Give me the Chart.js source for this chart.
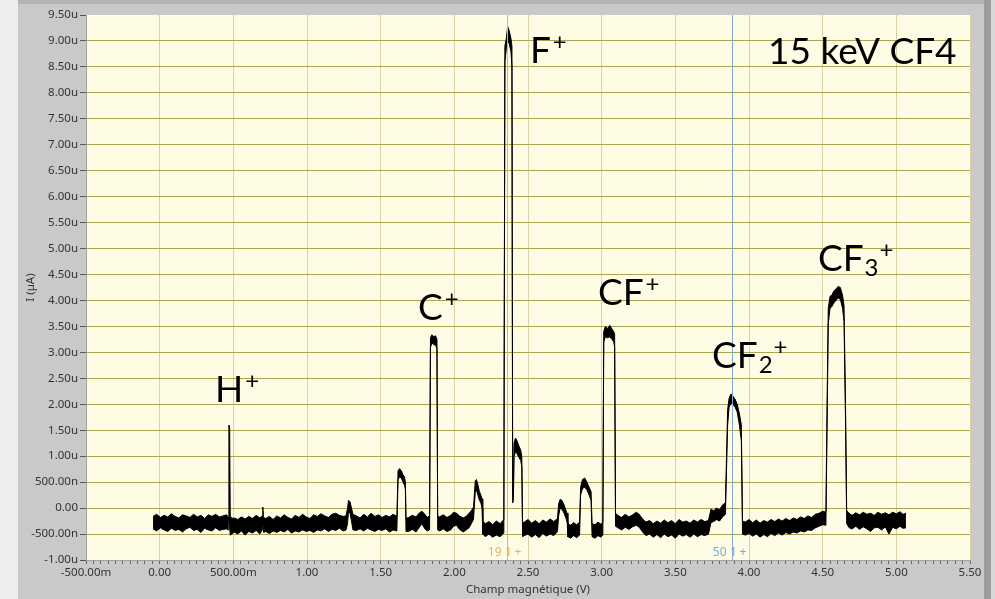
<!DOCTYPE html>
<html>
<head>
<meta charset="utf-8">
<title>Spectre de masse CF4</title>
<script src="https://cdn.jsdelivr.net/npm/chart.js@4.4.1/dist/chart.umd.min.js"></script>
<style>
  html, body { margin: 0; padding: 0; background: #c9c9c9; overflow: hidden; }
  #wrap { width: 995px; height: 599px; }
</style>
</head>
<body>
<div id="wrap"><canvas id="spectrum" width="995" height="599"></canvas></div>
<script>
// Ion current trace vs. magnet field setting, stored as the upper and lower
// edge of the noisy acquisition band at each field value.
const fieldV = [
  -0.045, -0.02, 0.005, 0.03, 0.055, 0.08, 0.105, 0.13, 0.155, 0.18, 0.205, 0.23, 0.255, 0.28, 0.305, 0.33, 0.355, 0.38, 0.405, 0.43, 0.455,
  0.466, 0.47, 0.475, 0.479, 0.49,
  0.505, 0.53, 0.555, 0.58, 0.605, 0.63, 0.655, 0.68, 0.695, 0.7, 0.705, 0.72,
  0.745, 0.77, 0.795, 0.82, 0.845, 0.87, 0.895, 0.92, 0.945, 0.97, 0.995,
  1.02, 1.045, 1.07, 1.095, 1.12, 1.145, 1.17, 1.195, 1.22, 1.245, 1.265,
  1.275, 1.282, 1.292, 1.302, 1.312,
  1.335, 1.36, 1.385, 1.41, 1.435, 1.46, 1.485, 1.51, 1.535, 1.56, 1.585, 1.61,
  1.618, 1.628, 1.64, 1.652, 1.662, 1.668, 1.672,
  1.69, 1.715, 1.74, 1.76, 1.78, 1.8, 1.815, 1.832,
  1.838, 1.848, 1.86, 1.872, 1.882, 1.887,
  1.9, 1.925, 1.95, 1.975, 1.995, 2.015, 2.035, 2.06, 2.08,
  2.1, 2.115, 2.13, 2.142, 2.15, 2.16, 2.17, 2.18, 2.188, 2.193,
  2.21, 2.235, 2.26, 2.285, 2.31, 2.336,
  2.343, 2.353, 2.362, 2.372, 2.384, 2.391,
  2.396, 2.401, 2.405, 2.415, 2.425, 2.438, 2.45, 2.458, 2.463,
  2.475, 2.5, 2.525, 2.55, 2.575, 2.6, 2.625, 2.65, 2.675, 2.7,
  2.708, 2.718, 2.73, 2.745, 2.758, 2.766, 2.771,
  2.79, 2.81, 2.83, 2.85,
  2.857, 2.87, 2.885, 2.9, 2.915, 2.928, 2.935,
  2.955, 2.975, 2.995, 3.008,
  3.014, 3.025, 3.04, 3.055, 3.07, 3.082, 3.088, 3.094,
  3.11, 3.135, 3.16, 3.185, 3.21, 3.235, 3.255, 3.275,
  3.3, 3.325, 3.35, 3.375, 3.4, 3.425, 3.45, 3.475, 3.5,
  3.525, 3.55, 3.575, 3.6, 3.625, 3.65, 3.675, 3.7, 3.725,
  3.742, 3.76, 3.78, 3.8, 3.82, 3.84,
  3.855, 3.865, 3.878, 3.89, 3.905, 3.92, 3.935, 3.948, 3.956,
  3.975, 4.0, 4.025, 4.05, 4.075, 4.1, 4.125, 4.15, 4.175, 4.2, 4.225,
  4.25, 4.275, 4.3, 4.325, 4.35, 4.375, 4.4, 4.425, 4.45, 4.475, 4.5, 4.522,
  4.53, 4.538, 4.55, 4.562, 4.575, 4.59, 4.605, 4.62, 4.635, 4.645, 4.655, 4.663,
  4.68, 4.7, 4.725, 4.75, 4.775, 4.8, 4.825, 4.85,
  4.875, 4.9, 4.925, 4.95, 4.975, 5.0, 5.025, 5.045, 5.065
];

const upperUA = [
  -0.16, -0.12, -0.18, -0.14, -0.17, -0.11, -0.16, -0.19, -0.13, -0.15, -0.18, -0.12, -0.17, -0.14, -0.2, -0.13, -0.16, -0.12, -0.17, -0.15, -0.13,
  -0.18, 1.6, 1.56, -0.15, -0.2,
  -0.19, -0.22, -0.17, -0.21, -0.16, -0.2, -0.14, -0.19, -0.15, 0.02, -0.18, -0.2,
  -0.16, -0.22, -0.15, -0.19, -0.13, -0.18, -0.21, -0.14, -0.18, -0.12, -0.17,
  -0.2, -0.13, -0.16, -0.11, -0.15, -0.18, -0.12, -0.1, -0.14, -0.16, -0.15,
  0.0, 0.15, 0.12, 0.0, -0.12,
  -0.15, -0.19, -0.12, -0.17, -0.1, -0.16, -0.13, -0.18, -0.14, -0.17, -0.12, -0.16,
  0.72, 0.76, 0.72, 0.64, 0.6, 0.5, -0.2,
  -0.18, -0.14, -0.17, -0.1, -0.06, -0.12, -0.18, -0.15,
  3.28, 3.34, 3.3, 3.32, 3.25, -0.15,
  -0.17, -0.13, -0.18, -0.14, -0.08, -0.1, -0.15, -0.19, -0.16,
  -0.1, -0.05, 0.02, 0.52, 0.55, 0.45, 0.32, 0.25, 0.18, -0.25,
  -0.3, -0.26, -0.32, -0.25, -0.3, -0.22,
  8.9, 9.05, 9.28, 9.2, 9.05, 8.9,
  0.25, 0.3, 1.25, 1.35, 1.3, 1.2, 1.12, 1.0, -0.28,
  -0.27, -0.22, -0.29, -0.24, -0.3, -0.23, -0.27, -0.21, -0.26, -0.2,
  0.08, 0.17, 0.15, 0.06, -0.05, -0.1, -0.3,
  -0.33, -0.28, -0.32, -0.27,
  0.4, 0.55, 0.58, 0.5, 0.4, 0.32, -0.3,
  -0.32, -0.27, -0.31, -0.28,
  3.4, 3.5, 3.46, 3.52, 3.45, 3.4, 3.35, -0.1,
  -0.14, -0.18, -0.12, -0.17, -0.13, -0.08, -0.12, -0.2,
  -0.27, -0.24, -0.3, -0.25, -0.29, -0.23, -0.28, -0.24, -0.3,
  -0.22, -0.27, -0.25, -0.29, -0.23, -0.27, -0.22, -0.26, -0.24,
  -0.02, -0.05, 0.0, -0.03, 0.06, 0.1,
  1.9, 2.12, 2.2, 2.16, 2.1, 2.0, 1.82, 1.6, -0.25,
  -0.27, -0.22, -0.28, -0.23, -0.29, -0.24, -0.27, -0.22, -0.26, -0.21, -0.25,
  -0.2, -0.24, -0.19, -0.22, -0.17, -0.2, -0.15, -0.18, -0.12, -0.1, -0.06, -0.08,
  2.0, 3.85, 4.08, 4.1, 4.18, 4.22, 4.27, 4.25, 4.1, 3.9, 2.0, -0.05,
  -0.1, -0.14, -0.09, -0.13, -0.08, -0.12, -0.1, -0.14,
  -0.08, -0.12, -0.09, -0.13, -0.08, -0.11, -0.07, -0.12, -0.1
];

const lowerUA = [
  -0.4, -0.44, -0.38, -0.42, -0.45, -0.39, -0.43, -0.41, -0.46, -0.4, -0.37, -0.43, -0.41, -0.47, -0.39, -0.42, -0.44, -0.38, -0.43, -0.41, -0.4,
  -0.42, -0.2, -0.35, -0.52, -0.5,
  -0.46, -0.5, -0.44, -0.52, -0.45, -0.48, -0.43, -0.5, -0.42, -0.3, -0.47, -0.45,
  -0.49, -0.44, -0.47, -0.43, -0.46, -0.41, -0.48, -0.44, -0.46, -0.42, -0.45,
  -0.43, -0.47, -0.42, -0.44, -0.4, -0.45, -0.41, -0.43, -0.39, -0.44, -0.42,
  -0.3, -0.05, -0.1, -0.25, -0.42,
  -0.43, -0.4, -0.44, -0.39, -0.42, -0.45, -0.41, -0.43, -0.4, -0.46, -0.42, -0.44,
  0.55, 0.6, 0.58, 0.5, 0.44, 0.35, -0.45,
  -0.45, -0.41, -0.46, -0.38, -0.3, -0.4, -0.44, -0.42,
  3.1, 3.18, 3.15, 3.14, 3.08, -0.42,
  -0.44, -0.4, -0.45, -0.42, -0.35, -0.33, -0.41, -0.46, -0.42,
  -0.38, -0.3, -0.22, 0.3, 0.35, 0.25, 0.15, 0.1, 0.0, -0.5,
  -0.55, -0.5, -0.56, -0.52, -0.55, -0.48,
  8.6, 8.85, 9.0, 8.95, 8.8, 8.5,
  0.1, 0.15, 1.0, 1.08, 1.05, 0.98, 0.92, 0.8, -0.55,
  -0.53, -0.5, -0.56, -0.51, -0.57, -0.49, -0.54, -0.5, -0.53, -0.45,
  -0.15, 0.0, -0.02, -0.1, -0.2, -0.28, -0.55,
  -0.58, -0.53, -0.57, -0.52,
  0.25, 0.38, 0.4, 0.35, 0.25, 0.15, -0.55,
  -0.58, -0.53, -0.56, -0.52,
  3.2, 3.3, 3.28, 3.3, 3.25, 3.2, 3.1, -0.35,
  -0.38, -0.42, -0.37, -0.41, -0.36, -0.33, -0.37, -0.45,
  -0.53, -0.5, -0.56, -0.51, -0.57, -0.5, -0.55, -0.52, -0.58,
  -0.5, -0.54, -0.51, -0.56, -0.5, -0.55, -0.51, -0.53, -0.5,
  -0.28, -0.26, -0.22, -0.25, -0.17, -0.12,
  1.6, 1.95, 2.02, 2.0, 1.95, 1.85, 1.6, 1.3, -0.5,
  -0.52, -0.49, -0.54, -0.5, -0.56, -0.51, -0.55, -0.49, -0.53, -0.48, -0.52,
  -0.47, -0.5, -0.46, -0.48, -0.44, -0.46, -0.42, -0.43, -0.38, -0.35, -0.32, -0.33,
  1.6, 3.55, 3.85, 3.88, 3.95, 4.0, 4.05, 4.02, 3.85, 3.6, 1.7, -0.3,
  -0.38, -0.4, -0.35, -0.41, -0.36, -0.4, -0.45, -0.38,
  -0.37, -0.42, -0.36, -0.5, -0.37, -0.4, -0.35, -0.39, -0.38
];

// axis ticks (LabVIEW style engineering prefixes)
const yTickValues = [-1, -0.5, 0, 0.5, 1, 1.5, 2, 2.5, 3, 3.5, 4, 4.5, 5, 5.5, 6, 6.5, 7, 7.5, 8, 8.5, 9, 9.5];
const yTickLabels = ['-1.00u', '-500.00n', '0.00', '500.00n', '1.00u', '1.50u', '2.00u', '2.50u', '3.00u', '3.50u', '4.00u',
  '4.50u', '5.00u', '5.50u', '6.00u', '6.50u', '7.00u', '7.50u', '8.00u', '8.50u', '9.00u', '9.50u'];
const xTickLabels = ['-500.00m', '0.00', '500.00m', '1.00', '1.50', '2.00', '2.50', '3.00', '3.50', '4.00', '4.50', '5.00', '5.50'];

// graph cursors
const cursorField = [2.357, 3.882];
const cursorTags = ['19', '50'];
const cursorColors = ['#e8b35e', '#7eaad8'];

// peak labels, anchored in axis units (baseline-left of the text)
const ionLabels = [
  { base: 'H', sub: '', sup: '+', at: [0.376, 2.04] },
  { base: 'C', sub: '', sup: '+', at: [1.754, 3.62] },
  { base: 'F', sub: '', sup: '+', at: [2.513, 8.58] },
  { base: 'CF', sub: '', sup: '+', at: [2.975, 3.91] },
  { base: 'CF', sub: '2', sup: '+', at: [3.749, 2.70] },
  { base: 'CF', sub: '3', sup: '+', at: [4.468, 4.57] },
  { base: '15 keV CF4', sub: '', sup: '', at: [4.129, 8.56] }
];

Chart.defaults.font.family = '"Noto Sans", "DejaVu Sans", sans-serif';
Chart.defaults.font.size = 11.5;
Chart.defaults.color = '#333';

// grey panel around the plot + cream plot background
const panelFrame = {
  id: 'panelFrame',
  beforeDraw(chart) {
    const { ctx, chartArea: a, width, height } = chart;
    ctx.save();
    ctx.fillStyle = '#c9c9c9';
    ctx.fillRect(0, 0, width, height);
    ctx.fillStyle = '#ededed';
    ctx.fillRect(0, 0, 18, height);
    ctx.fillStyle = '#b4b4b4';
    ctx.fillRect(18, 0, width - 18, 4);
    ctx.fillStyle = '#9c9c9c';
    ctx.fillRect(984, 0, 7, height);
    ctx.fillStyle = '#d8d8d8';
    ctx.fillRect(991, 0, 4, height);
    ctx.fillStyle = '#fffce6';
    ctx.fillRect(a.left, a.top, a.right - a.left, a.bottom - a.top);
    ctx.restore();
  }
};

const cursorsAndLabels = {
  id: 'cursorsAndLabels',
  afterDatasetsDraw(chart) {
    const { ctx, chartArea: a, scales: { x, y } } = chart;
    ctx.save();

    cursorField.forEach((v, i) => {
      const px = Math.round(x.getPixelForValue(v)) + 0.5;
      ctx.strokeStyle = cursorColors[i];
      ctx.lineWidth = 1;
      ctx.beginPath();
      ctx.moveTo(px, a.top);
      ctx.lineTo(px, a.bottom);
      ctx.stroke();

      ctx.fillStyle = cursorColors[i];
      ctx.font = '12px "Noto Sans"';
      ctx.textBaseline = 'middle';
      ctx.textAlign = 'right';
      ctx.fillText(cursorTags[i], px - 6, a.bottom - 7);
      ctx.textAlign = 'center';
      ctx.fillText('1', px + 1, a.bottom - 7);
      ctx.textAlign = 'left';
      ctx.fillText('+', px + 7, a.bottom - 7);
    });

    ctx.fillStyle = '#000';
    ctx.textAlign = 'left';
    ctx.textBaseline = 'alphabetic';
    ionLabels.forEach(l => {
      let px = x.getPixelForValue(l.at[0]);
      const py = y.getPixelForValue(l.at[1]);
      ctx.font = '37px Lato';
      ctx.fillText(l.base, px, py);
      px += ctx.measureText(l.base).width + 1;
      ctx.font = '24px Lato';
      if (l.sub) {
        ctx.fillText(l.sub, px, py + 5);
        px += ctx.measureText(l.sub).width;
      }
      if (l.sup) ctx.fillText(l.sup, px + 1, py - 13);
    });

    ctx.restore();
  }
};

const isMajor = v => Math.round(v * 20) % 10 === 0;

new Chart(document.getElementById('spectrum'), {
  type: 'line',
  data: {
    datasets: [
      {
        label: 'max',
        data: fieldV.map((v, i) => ({ x: v, y: upperUA[i] })),
        borderColor: '#000',
        backgroundColor: '#000',
        borderWidth: 1,
        pointRadius: 0,
        tension: 0,
        fill: '+1'
      },
      {
        label: 'min',
        data: fieldV.map((v, i) => ({ x: v, y: lowerUA[i] })),
        borderColor: '#000',
        borderWidth: 1,
        pointRadius: 0,
        tension: 0,
        fill: false
      }
    ]
  },
  options: {
    responsive: false,
    animation: false,
    devicePixelRatio: 1,
    layout: { padding: { top: 15, right: 25, left: 0, bottom: 0 } },
    plugins: {
      legend: { display: false },
      tooltip: { enabled: false }
    },
    scales: {
      x: {
        type: 'linear',
        min: -0.5,
        max: 5.5,
        afterBuildTicks(axis) {
          // major every 0.5 V, minor every 0.05 V
          const ticks = [];
          for (let i = -10; i <= 110; i++) ticks.push({ value: i / 20 });
          axis.ticks = ticks;
        },
        afterFit(axis) {
          axis.height = 39;
          axis.paddingLeft = 0;
          axis.paddingRight = 0;
        },
        ticks: {
          autoSkip: false,
          maxRotation: 0,
          padding: 2,
          color: '#333',
          callback(value) {
            if (!isMajor(value)) return '';
            return xTickLabels[Math.round(value * 2) + 1];
          }
        },
        grid: {
          color: ctx => (ctx.tick && isMajor(ctx.tick.value)) ? '#d9d4a8' : 'transparent',
          tickColor: '#666',
          tickLength: 4
        },
        border: { color: '#a0a0a0' },
        title: {
          display: true,
          text: 'Champ magnétique (V)',
          color: '#333',
          padding: { top: 0, bottom: 2 }
        }
      },
      y: {
        min: -1,
        max: 9.5,
        afterBuildTicks(axis) {
          axis.ticks = yTickValues.map(v => ({ value: v }));
        },
        afterFit(axis) {
          axis.width = 86;
          axis.paddingTop = 0;
          axis.paddingBottom = 0;
        },
        ticks: {
          padding: 2,
          color: '#333',
          callback: (value, index) => yTickLabels[index]
        },
        grid: {
          color: ctx => (ctx.tick && (ctx.tick.value === -1 || ctx.tick.value === 9.5)) ? 'transparent' : '#aca44e',
          tickColor: '#555',
          tickLength: 6
        },
        border: { color: '#a0a0a0' },
        title: {
          display: true,
          text: 'I (µA)',
          color: '#333',
          padding: { top: 24, bottom: 0 }
        }
      }
    }
  },
  plugins: [panelFrame, cursorsAndLabels]
});
</script>
</body>
</html>
